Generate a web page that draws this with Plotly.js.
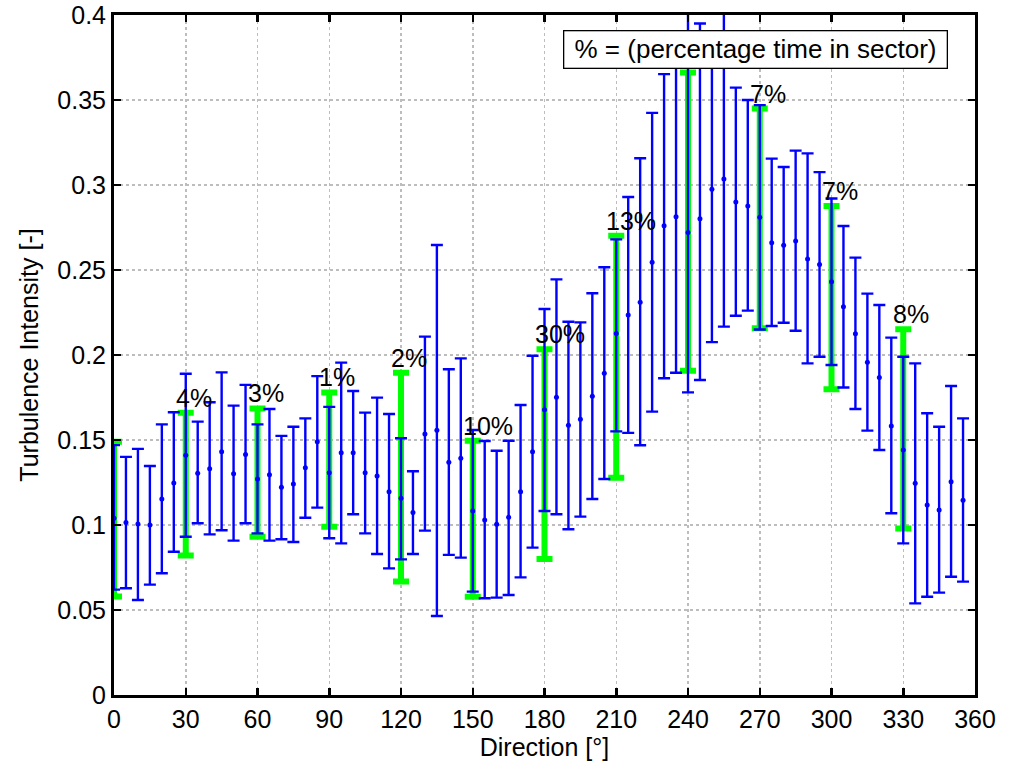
<!DOCTYPE html>
<html>
<head>
<meta charset="utf-8">
<script src="https://cdn.plot.ly/plotly-3.0.1.min.js"></script>
<style>html,body{margin:0;padding:0;background:#fff;}#chart{width:1019px;height:766px;}</style>
</head>
<body>
<div id="chart"></div>
<script>
// Direction bins (deg) of the 5-degree statistics
var directions = [0,5,10,15,20,25,30,35,40,45,50,55,60,65,70,75,80,85,90,95,100,105,110,115,120,125,130,135,140,145,150,155,160,165,170,175,180,185,190,195,200,205,210,215,220,225,230,235,240,245,250,255,260,265,270,275,280,285,290,295,300,305,310,315,320,325,330,335,340,345,350,355];
var tiMean = [0.104,0.1014,0.1006,0.1000,0.1153,0.1247,0.141,0.1304,0.1331,0.1431,0.1302,0.1414,0.1271,0.1296,0.1222,0.1241,0.1337,0.1490,0.1308,0.1425,0.1425,0.1308,0.1288,0.1196,0.1157,0.1073,0.1535,0.1557,0.1369,0.1392,0.1082,0.1029,0.1004,0.1045,0.1196,0.1431,0.1678,0.1751,0.1587,0.1622,0.1757,0.1892,0.2127,0.2235,0.2310,0.2545,0.2760,0.2813,0.2720,0.2801,0.2975,0.3035,0.2900,0.2876,0.2811,0.2661,0.2645,0.2671,0.2565,0.2533,0.2431,0.2284,0.2125,0.1957,0.1868,0.1582,0.1441,0.1245,0.1118,0.1088,0.1255,0.1145];
var tiUpper = [0.147,0.1401,0.1448,0.1347,0.1592,0.1663,0.189,0.1608,0.1722,0.1898,0.1702,0.1824,0.1592,0.1682,0.1524,0.1578,0.1627,0.1876,0.1695,0.1955,0.1788,0.1661,0.1749,0.1653,0.1510,0.1316,0.2108,0.2647,0.1916,0.1980,0.1559,0.1494,0.1437,0.1496,0.1706,0.1996,0.2271,0.2445,0.2196,0.2192,0.2363,0.2516,0.268,0.2929,0.3157,0.3424,0.3652,0.385,0.410,0.395,0.390,0.405,0.3573,0.3500,0.347,0.3155,0.3106,0.3202,0.3186,0.3076,0.2921,0.2759,0.2573,0.2361,0.2294,0.2102,0.1990,0.1951,0.1657,0.1578,0.1818,0.1627];
var tiLower = [0.062,0.0628,0.0559,0.0649,0.0716,0.0843,0.0931,0.1010,0.0945,0.0969,0.0908,0.1010,0.0951,0.0908,0.0916,0.0900,0.1043,0.1102,0.0922,0.0892,0.1063,0.0951,0.0829,0.0745,0.0798,0.0829,0.0967,0.0465,0.0824,0.0808,0.0608,0.0569,0.0573,0.0588,0.0692,0.0867,0.1082,0.1063,0.0975,0.1049,0.1153,0.1271,0.1551,0.1542,0.1469,0.1667,0.1863,0.1896,0.1780,0.1853,0.2076,0.2167,0.2231,0.2261,0.2150,0.2171,0.2190,0.2143,0.1951,0.1990,0.1941,0.1809,0.1682,0.1555,0.1441,0.1069,0.0892,0.0539,0.0578,0.0602,0.0696,0.0667];

// 30-degree sector statistics
var sectors = [0,30,60,90,120,150,180,210,240,270,300,330];
var sectorUpper = [0.149,0.166,0.1686,0.178,0.1896,0.1496,0.2034,0.2702,0.3662,0.345,0.2876,0.2151];
var sectorLower = [0.058,0.082,0.0931,0.099,0.0667,0.0578,0.0800,0.1278,0.1908,0.2157,0.1798,0.098];
var sectorPct = ["8%","4%","3%","1%","2%","10%","30%","13%","","7%","7%","8%"];

var xTicks = [0,30,60,90,120,150,180,210,240,270,300,330,360];
var xTickText = ["0","30","60","90","120","150","180","210","240","270","300","330","360"];
var yTicks = [0,0.05,0.1,0.15,0.2,0.25,0.3,0.35,0.4];
var yTickText = ["0","0.05","0.1","0.15","0.2","0.25","0.3","0.35","0.4"];

var FONT = "Liberation Sans, Arial, Helvetica, sans-serif";
var FS = 25;

var greenMid = sectors.map(function(_, i){ return (sectorUpper[i] + sectorLower[i]) / 2; });
var green = {
  x: sectors, y: greenMid, type: 'scatter', mode: 'markers',
  marker: {size: 1, color: '#00ff00', opacity: 0},
  error_y: {
    type: 'data', symmetric: false,
    array: sectorUpper.map(function(u, i){ return u - greenMid[i]; }),
    arrayminus: sectorLower.map(function(l, i){ return greenMid[i] - l; }),
    color: '#00ff00', thickness: 6, width: 8
  },
  hoverinfo: 'skip', showlegend: false
};
var blue = {
  x: directions, y: tiMean, type: 'scatter', mode: 'markers',
  marker: {size: 5, color: '#0000ff'},
  error_y: {
    type: 'data', symmetric: false,
    array: tiUpper.map(function(u, i){ return u - tiMean[i]; }),
    arrayminus: tiLower.map(function(l, i){ return tiMean[i] - l; }),
    color: '#0000ff', thickness: 2.4, width: 6
  },
  showlegend: false
};

var annotations = [];
sectors.forEach(function(s, i){
  if (!sectorPct[i]) return;
  annotations.push({
    x: s - 4.6, y: sectorUpper[i], xref: 'x', yref: 'y',
    text: sectorPct[i], showarrow: false, xanchor: 'left', yanchor: 'bottom',
    yshift: 0, borderpad: 0, font: {family: FONT, size: FS, color: '#000'}
  });
});
annotations.push({
  xref: 'paper', yref: 'paper', x: 0.9686, y: 0.978, xanchor: 'right', yanchor: 'top',
  text: '&nbsp;% = (percentage time in sector)&nbsp;', showarrow: false,
  bgcolor: '#ffffff', bordercolor: '#000000', borderwidth: 1.3, borderpad: 3,
  font: {family: FONT, size: 26, color: '#000'}
});

var axisCommon = {
  ticks: 'inside', ticklen: 7, tickwidth: 2.5, tickcolor: '#000',
  showline: true, linewidth: 3, linecolor: '#000', mirror: 'ticks',
  showgrid: true, gridcolor: '#bdbdbd', griddash: 'dot', gridwidth: 1.5,
  zeroline: false, tickfont: {family: FONT, size: FS, color: '#000'}
};

var layout = {
  width: 1019, height: 766,
  margin: {l: 114, r: 44, t: 15, b: 71},
  paper_bgcolor: '#fff', plot_bgcolor: '#fff',
  font: {family: FONT, size: FS, color: '#000'},
  xaxis: Object.assign({}, axisCommon, {
    range: [0, 360], tickmode: 'array', tickvals: xTicks, ticktext: xTickText,
    title: {text: 'Direction [°]', font: {family: FONT, size: FS, color: '#000'}, standoff: 2}
  }),
  yaxis: Object.assign({}, axisCommon, {
    range: [0, 0.4], tickmode: 'array', tickvals: yTicks, ticktext: yTickText,
    title: {text: 'Turbulence Intensity [-]', font: {family: FONT, size: FS, color: '#000'}, standoff: 12}
  }),
  annotations: annotations,
  showlegend: false
};

Plotly.newPlot('chart', [green, blue], layout, {displayModeBar: false, staticPlot: true});
</script>
</body>
</html>
